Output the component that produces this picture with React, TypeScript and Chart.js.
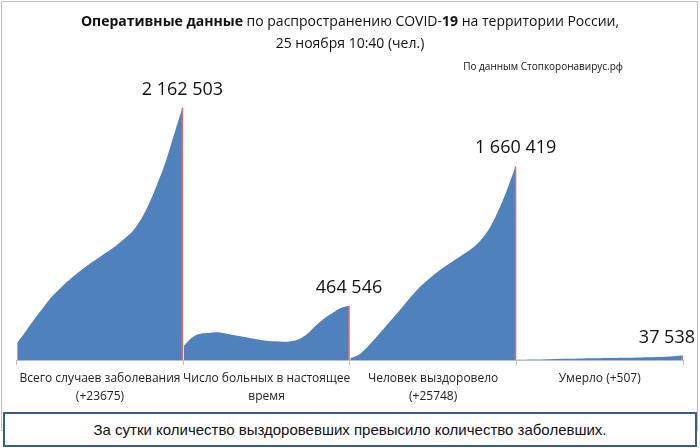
import React, { useEffect, useRef } from "react";
import { Chart, registerables } from "chart.js";

Chart.register(...registerables);

// ---- data ----
const categories: string[][] = [
  ["Всего случаев заболевания", "(+23675)"],
  ["Число больных в настоящее", "время"],
  ["Человек выздоровело", "(+25748)"],
  ["Умерло (+507)"],
];

const totalCases = [
  148000, 243000, 343000, 435000, 527000, 600000, 669000, 729000, 784000, 836000,
  883000, 932000, 981000, 1041000, 1106000, 1208000, 1346000, 1517000, 1706000, 1937000,
  2162503,
];

const activeCases = [
  120000, 193000, 226000, 231000, 237000, 227000, 215000, 202000, 189000, 176000,
  166000, 160000, 157000, 161000, 180000, 227000, 296000, 356000, 403000, 446000,
  464546,
];

const recovered = [
  17000, 43000, 107000, 184000, 266000, 347000, 429000, 514000, 596000, 664000,
  724000, 780000, 828000, 874000, 921000, 973000, 1046000, 1149000, 1294000, 1466000,
  1660419,
];

const deaths = [
  1450, 2300, 3400, 5000, 6500, 8000, 9700, 11200, 12600, 14000,
  15200, 16400, 17700, 18800, 19800, 21100, 23000, 25500, 28500, 32400,
  37538,
];

const endLabels = ["2 162 503", "464 546", "1 660 419", "37 538"];

const BLUE = "#4f81bd";
const RED = "#e06c6c";
const GRAY = "#bfbfbf";
const Y_MAX = 2571400;
const SEG_START = 0.003;
const SEG_SPAN = 0.992;

const endMarkers = {
  id: "endMarkers",
  afterDatasetsDraw(chart: any) {
    const ctx = chart.ctx as CanvasRenderingContext2D;
    const y0 = chart.scales.y.getPixelForValue(0);
    chart.data.datasets.forEach((_ds: any, i: number) => {
      const meta = chart.getDatasetMeta(i);
      const pt = meta.data[meta.data.length - 1];
      ctx.save();
      ctx.strokeStyle = RED;
      ctx.lineWidth = 1.5;
      ctx.beginPath();
      ctx.moveTo(pt.x, pt.y);
      ctx.lineTo(pt.x, y0);
      ctx.stroke();
      const text = endLabels[i];
      ctx.font = '18px "Open Sans"';
      ctx.fillStyle = "#111";
      ctx.textAlign = "center";
      ctx.textBaseline = "middle";
      const w = ctx.measureText(text).width;
      const cx = Math.min(pt.x, chart.width - 5 - w / 2);
      ctx.fillText(text, cx, pt.y - 18);
      ctx.restore();
    });
  },
};

export default function App() {
  const ref = useRef<HTMLCanvasElement>(null);

  useEffect(() => {
    const series = [totalCases, activeCases, recovered, deaths];
    const datasets = series.map((vals, i) => ({
      data: vals.map((v, k) => ({ x: i + SEG_START + (k / (vals.length - 1)) * SEG_SPAN, y: v })),
      fill: "origin",
      backgroundColor: BLUE,
      borderColor: "rgba(0,0,0,0)",
      borderWidth: 0,
      pointRadius: 0,
      cubicInterpolationMode: "monotone" as const,
    }));

    const chart = new Chart(ref.current as HTMLCanvasElement, {
      type: "line",
      data: { datasets: datasets as any },
      options: {
        animation: false,
        responsive: false,
        layout: { padding: { left: 16.7, right: 17, top: 60, bottom: 33 } },
        plugins: { legend: { display: false }, tooltip: { enabled: false } },
        scales: {
          x: {
            type: "linear",
            min: 0,
            max: 4,
            position: "bottom",
            weight: 0,
            afterBuildTicks: (s: any) => {
              s.ticks = [0, 1, 2, 3, 4].map((v) => ({ value: v }));
            },
            ticks: { display: false },
            grid: { drawOnChartArea: false, drawTicks: true, tickLength: 5, color: GRAY },
            border: { color: GRAY, width: 1 },
            afterFit: (s: any) => {
              s.height = 5;
            },
          },
          x2: {
            type: "category",
            labels: categories as any,
            offset: true,
            position: "bottom",
            weight: 1,
            grid: { display: false, drawTicks: false },
            border: { display: false },
            ticks: {
              font: { family: "Open Sans", size: 12, lineHeight: 1.55 },
              color: "#222",
              maxRotation: 0,
              autoSkip: false,
              padding: 4,
            },
            afterFit: (s: any) => {
              s.height = 50;
            },
          },
          y: { display: false, min: 0, max: Y_MAX },
        },
      } as any,
      plugins: [endMarkers],
    });
    return () => chart.destroy();
  }, []);

  return (
    <div style={{ position: "absolute", left: 0, top: 0, width: 700, height: 448, background: "#fff", overflow: "hidden" }}>
      <div
        style={{
          position: "absolute",
          left: 1,
          top: 1,
          width: 697,
          height: 430,
          boxSizing: "border-box",
          border: "1px solid #c0c0c0",
        }}
      />
      <canvas ref={ref} width={700} height={448} style={{ position: "absolute", left: 0, top: 0, width: 700, height: 448 }} />
      <div
        style={{
          position: "absolute",
          left: 0,
          top: 10,
          width: 700,
          textAlign: "center",
          fontFamily: '"Open Sans"',
          fontSize: 14,
          lineHeight: "22px",
          color: "#111",
        }}
      >
        <div>
          <b>Оперативные данные</b> по распространению COVID-<b>19</b> на территории России,
        </div>
        <div>25 ноября 10:40 (чел.)</div>
      </div>
      <div
        style={{
          position: "absolute",
          right: 77,
          top: 59,
          fontFamily: '"Open Sans"',
          fontSize: 10,
          lineHeight: "14px",
          color: "#111",
          whiteSpace: "nowrap",
        }}
      >
        По данным Стопкоронавирус.рф
      </div>
      <div
        style={{
          position: "absolute",
          left: 3,
          top: 412,
          width: 694,
          height: 35,
          boxSizing: "border-box",
          border: "2px solid #385d8a",
          background: "#fff",
          display: "flex",
          alignItems: "center",
          justifyContent: "center",
          fontFamily: '"Liberation Sans", Arial, sans-serif',
          fontSize: 15,
          color: "#111",
        }}
      >
        За сутки количество выздоровевших превысило количество заболевших.
      </div>
    </div>
  );
}
